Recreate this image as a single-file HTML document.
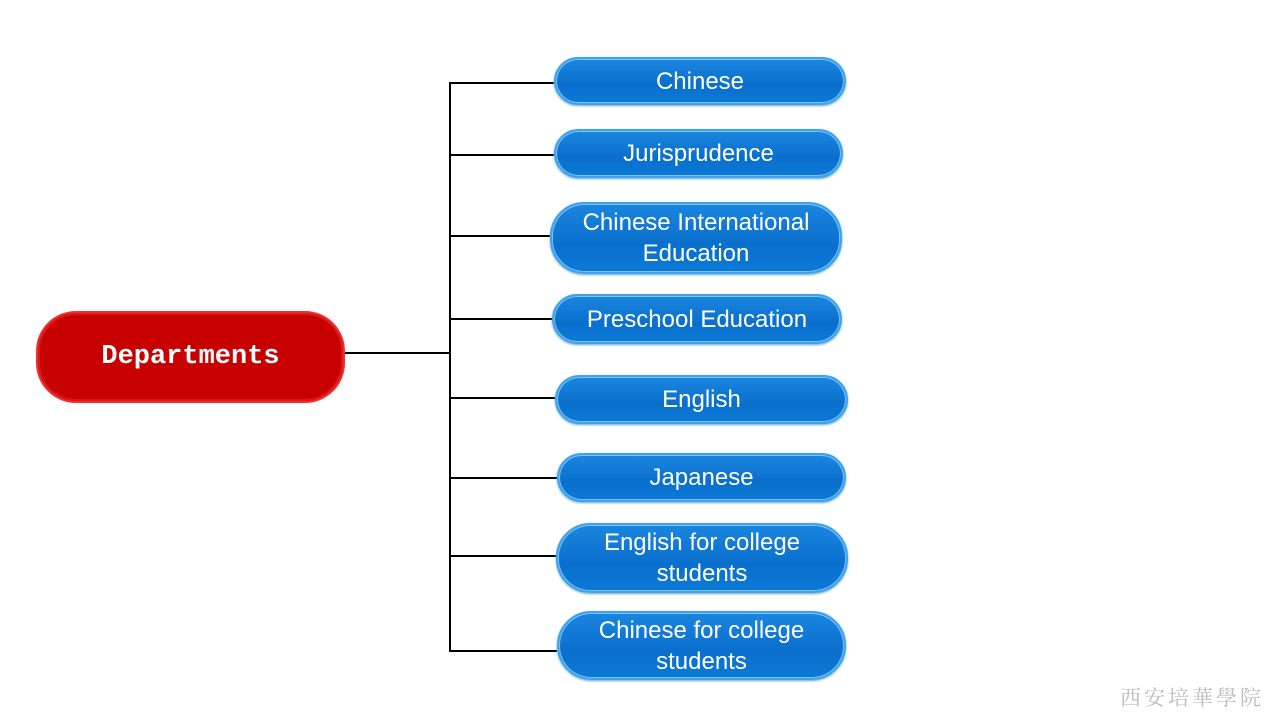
<!DOCTYPE html>
<html><head><meta charset="utf-8"><style>
body{margin:0;width:1280px;height:720px;background:#fff;position:relative;overflow:hidden;font-family:"Liberation Sans",sans-serif}
.b{position:absolute;box-sizing:border-box;border-radius:26px;background:linear-gradient(#1a86e0,#0a6fcc 60%,#0c79d6);border:2px solid #3fa2ee;box-shadow:inset 0 0 0 1px #7cc4f5,0 1px 2px #6ab;color:#fff;font-size:24px;display:flex;align-items:center;justify-content:center;text-align:center;line-height:31px}
.l{position:absolute;background:#000}
.r{position:absolute;left:36px;top:311px;width:309px;height:92px;box-sizing:border-box;border-radius:40px;background:#c70000;border:2px solid #f03030;box-shadow:inset 0 0 0 2px #d81818;color:#fff;font-family:"Liberation Mono","Noto Sans CJK SC",monospace;font-weight:bold;font-size:27px;display:flex;align-items:center;justify-content:center}
.w{position:absolute;left:1120px;top:682px;font-family:"Noto Serif CJK SC",serif;font-size:21px;color:#bbb;letter-spacing:3px}
</style></head><body>
<div class="r">Departments</div>
<div class="l" style="left:345px;top:352px;width:106px;height:2px"></div>
<div class="l" style="left:449px;top:82px;width:2px;height:570px"></div>
<div class="l" style="left:450px;top:82px;width:104px;height:2px"></div>
<div class="l" style="left:450px;top:154px;width:104px;height:2px"></div>
<div class="l" style="left:450px;top:235px;width:100px;height:2px"></div>
<div class="l" style="left:450px;top:318px;width:102px;height:2px"></div>
<div class="l" style="left:450px;top:397px;width:105px;height:2px"></div>
<div class="l" style="left:450px;top:477px;width:107px;height:2px"></div>
<div class="l" style="left:450px;top:555px;width:106px;height:2px"></div>
<div class="l" style="left:450px;top:650px;width:107px;height:2px"></div>
<div class="b" style="left:554px;top:57px;width:292px;height:48px">Chinese</div>
<div class="b" style="left:554px;top:129px;width:289px;height:49px">Jurisprudence</div>
<div class="b" style="left:550px;top:202px;width:292px;height:72px;border-radius:34px">Chinese International<br>Education</div>
<div class="b" style="left:552px;top:294px;width:290px;height:50px">Preschool Education</div>
<div class="b" style="left:555px;top:375px;width:293px;height:49px">English</div>
<div class="b" style="left:557px;top:453px;width:289px;height:49px">Japanese</div>
<div class="b" style="left:556px;top:523px;width:292px;height:70px;border-radius:34px">English for college<br>students</div>
<div class="b" style="left:557px;top:611px;width:289px;height:69px;border-radius:34px">Chinese for college<br>students</div>
<div class="w">西安培華學院</div>
</body></html>
